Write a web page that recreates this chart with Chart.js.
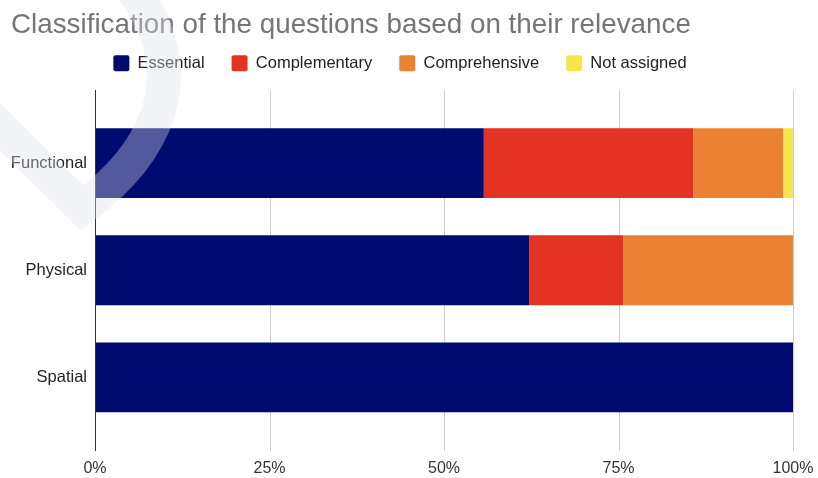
<!DOCTYPE html>
<html>
<head>
<meta charset="utf-8">
<script src="https://cdn.jsdelivr.net/npm/chart.js@4"></script>
<style>
  html, body { margin: 0; padding: 0; background: #fff; }
  #wrap { width: 818px; height: 478px; }
</style>
</head>
<body>
<div id="wrap"><canvas id="myChart" width="818" height="478"></canvas></div>
<script>
var chartTitle = "Classification of the questions based on their relevance";
var categories = ["Functional", "Physical", "Spatial"];
var seriesNames = ["Essential", "Complementary", "Comprehensive", "Not assigned"];
var seriesColors = ["#000b70", "#e53323", "#eb8233", "#f4e84e"];
// percent of questions per category
var essential = [55.7, 62.2, 100];
var complementary = [30.0, 13.5, 0];
var comprehensive = [12.9, 24.3, 0];
var notAssigned = [1.4, 0, 0];
var xTicks = [0, 25, 50, 75, 100];

var fontFamily = "Arial, 'Liberation Sans', sans-serif";
var seriesValues = [essential, complementary, comprehensive, notAssigned];
var datasets = seriesNames.map(function (name, i) {
    return {
        label: name,
        data: seriesValues[i],
        backgroundColor: seriesColors[i],
        borderWidth: 0,
        barPercentage: 0.652,
        categoryPercentage: 1
    };
});

var decoPlugin = {
    id: "deco",
    beforeDatasetsDraw: function (chart) {
        // grid lines run a bit above and below the bar band
        var c = chart.ctx;
        var x = chart.scales.x;
        c.save();
        c.strokeStyle = "#cccccc";
        c.lineWidth = 1;
        xTicks.forEach(function (t) {
            if (t === 0) return;
            var px = Math.round(x.getPixelForValue(t)) + 0.5;
            c.beginPath();
            c.moveTo(px, 90);
            c.lineTo(px, 451);
            c.stroke();
        });
        c.restore();
    },
    afterDatasetsDraw: function (chart) {
        var c = chart.ctx;
        var px = Math.round(chart.scales.x.getPixelForValue(0)) + 0.5;
        c.save();
        c.strokeStyle = "#333333";
        c.lineWidth = 1;
        c.beginPath();
        c.moveTo(px, 90);
        c.lineTo(px, 451);
        c.stroke();
        c.restore();
    },
    afterDraw: function (chart) {
        var c = chart.ctx;
        c.save();
        // title
        c.fillStyle = "#757575";
        c.font = "27.8px " + fontFamily;
        c.textBaseline = "alphabetic";
        c.textAlign = "left";
        c.fillText(chartTitle, 11, 33);
        // faint watermark stroke over the top-left corner
        c.strokeStyle = "rgba(222,224,235,0.37)";
        c.lineWidth = 34;
        c.lineJoin = "miter";
        c.beginPath();
        c.moveTo(-15, 112);
        c.lineTo(82, 208);
        c.bezierCurveTo(150, 158, 200, 80, 130, -15);
        c.stroke();
        c.restore();
    }
};

var ctx = document.getElementById("myChart").getContext("2d");
var chart = new Chart(ctx, {
    type: "bar",
    data: {
        labels: categories,
        datasets: datasets
    },
    options: {
        indexAxis: "y",
        responsive: false,
        animation: false,
        layout: { padding: { left: 0, right: 18, top: 28, bottom: 0 } },
        plugins: {
            title: { display: false },
            subtitle: {
                display: true,
                text: "",
                weight: 100,
                font: { size: 1, lineHeight: 1 },
                padding: { top: 27, bottom: 0 }
            },
            legend: {
                display: true,
                position: "top",
                labels: {
                    color: "#222222",
                    font: { family: fontFamily, size: 16.5 },
                    boxWidth: 16,
                    boxHeight: 16,
                    padding: 27,
                    useBorderRadius: true,
                    borderRadius: 2
                }
            },
            tooltip: { enabled: false }
        },
        scales: {
            x: {
                stacked: true,
                min: 0,
                max: 100,
                afterBuildTicks: function (scale) {
                    scale.ticks = xTicks.map(function (v) { return { value: v }; });
                },
                afterFit: function (scale) {
                    scale.height = 47;
                    scale.paddingLeft = 0;
                    scale.paddingRight = 25;
                },
                grid: { display: false },
                border: { display: false },
                ticks: {
                    color: "#333333",
                    font: { family: fontFamily, size: 16 },
                    padding: 20,
                    maxRotation: 0,
                    callback: function (v) { return v + "%"; }
                }
            },
            y: {
                stacked: true,
                afterFit: function (scale) { scale.width = 95; },
                grid: { display: false },
                border: { display: false },
                ticks: {
                    color: "#222222",
                    font: { family: fontFamily, size: 16.5 },
                    padding: 0
                }
            }
        }
    },
    plugins: [decoPlugin]
});
</script>
</body>
</html>
